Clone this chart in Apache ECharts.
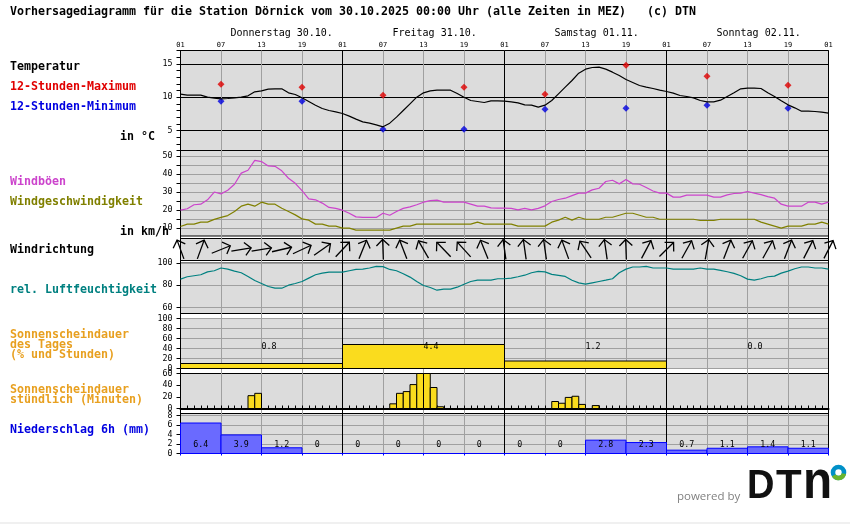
<!DOCTYPE html>
<html>
<head>
<meta charset="utf-8">
<script src="https://cdn.jsdelivr.net/npm/echarts@6/dist/echarts.min.js"></script>
<style>html,body{margin:0;padding:0;background:#fff}</style>
</head>
<body>
<div id="main" style="width:850px;height:524px"></div>
<script>
// values, one value per hour, first = 01:00 Thursday
var hourLabels = ['01','07','13','19','01','07','13','19','01','07','13','19','01','07','13','19','01'];
var dayLabels = ['Donnerstag 30.10.','Freitag 31.10.','Samstag 01.11.','Sonntag 02.11.'];

var temperature = [10.45,10.3,10.3,10.3,10,9.85,9.75,9.8,9.9,10,10.2,10.8,10.95,11.2,11.25,11.25,10.65,10.4,9.9,9.35,8.8,8.3,8,7.8,
  7.55,7.15,6.7,6.3,6.1,5.85,5.55,6.1,7,8,9,10,10.65,10.95,11.05,11.05,11.05,10.55,10,9.5,9.35,9.2,9.45,9.45,
  9.4,9.3,9.15,8.85,8.8,8.5,8.8,9.5,10.5,11.5,12.5,13.6,14.2,14.45,14.5,14.2,13.75,13.25,12.65,12.2,11.75,11.5,11.3,11.05,
  10.85,10.6,10.25,10.1,9.9,9.5,9.3,9.3,9.55,10.1,10.65,11.25,11.35,11.35,11.3,10.65,10.1,9.45,8.85,8.4,7.9,7.9,7.85,7.75,7.6];
// 12-hour extremes at 07 and 19 o'clock
var tempMax = [11.95,11.5,10.3,11.5,10.45,14.8,13.15,11.8];
var tempMin = [9.4,9.4,5.2,5.2,8.2,8.35,8.8,8.35];

var gusts = [20,20.8,23,23.3,25.7,30,29,31,34.3,40.4,42,47.5,46.8,44.4,44.2,41.7,37.6,34.8,30.8,26.2,25.7,23.9,21.5,21,
  20,18.3,16.3,16,16,16,18.3,17.2,19.3,21,21.8,23,24.4,25.3,25.5,24.4,24.4,24.4,24.4,23.3,22.2,22.2,21.3,21.1,
  21.1,21,20.2,21,20.2,21,22.4,24.8,25.9,26.6,28,29.4,29.4,31.2,32.1,35.8,36.5,34.5,36.9,34.5,34.3,32.5,30.6,29.4,
  29.4,27.2,27.2,28.3,28.3,28.3,28.3,27.2,27.2,28.4,29.2,29.4,30.3,29.4,28.6,27.5,26.6,23.3,22.2,22.2,22.2,24.4,24.4,23.3,24.4];
var windSpeed = [11,12.3,12.3,13.4,13.4,14.9,16,17,19.3,22.2,23.3,22.2,24.4,23.3,23.3,21.1,19.3,17.4,15.2,14.5,12.3,12.3,11.2,11.2,
  10.1,10.1,9,9,9,9,9,9,10.1,11.2,11.2,12.3,12.3,12.3,12.3,12.3,12.3,12.3,12.3,12.3,13.4,12.3,12.3,12.3,
  12.3,12.3,11.2,11.2,11.2,11.2,11.2,13.4,14.5,16.1,14.5,16.1,15,15,15,16.1,16.1,17.2,18.3,18.3,17.2,16.1,16.1,15,
  15,15,15,15,15,14.3,14.3,14.3,15,15,15,15,15,15,13.4,12.3,11.2,10.1,11.2,11.2,11.2,12.3,12.3,13.4,12.3];
// compass bearing the arrow points to, one every 3 hours
var windArrows = [340,20,68,81,81,77,65,55,43,22,358,339,330,316,318,338,352,352,352,340,326,352,358,28,45,29,10,21,29,29,21,27,27];

var humidity = [85.5,87.6,88.5,89.4,92,93,95.5,94.5,92.7,91.2,87.9,84.2,81.5,78.8,77.3,77.3,80,81.5,83.3,86.4,89.4,90.9,91.8,91.8,
  91.8,93,94.2,94.5,95.5,97,96.7,94.2,93,90.3,87.3,83.3,79.7,77.9,75.5,76.4,76.4,78.2,80.9,83.3,84.5,84.5,84.5,85.8,
  85.8,86.4,87.6,89,91.2,92.4,92,89.7,88.8,87.9,84.5,82.1,80.9,82.1,83.3,84.5,85.8,91.2,94.5,96.4,96.4,97,95.5,95.5,
  95.5,94.5,94.5,94.5,94.5,95.5,94.5,94.5,93.3,92.1,90.6,88.5,85.5,84.5,85.8,87.6,88.2,90.9,92.7,94.8,96.4,96.4,95.5,95.5,94.5];

var sunDayPercent = [10,48,15,0];
var sunDayHours = ['0.8','4.4','1.2','0.0'];
// minutes of sun for the hour starting at that index
var sunHourStart = [10,11,31,32,33,34,35,36,37,38,55,56,57,58,59,61];
var sunHourMinutes = [22,26,8,26,29,41,60,60,36,3,12,9,19,21,7,5];
var precip6h = [6.4,3.9,1.2,0,0,0,0,0,0,0,2.8,2.3,0.7,1.1,1.4,1.1];

var tempTicks = [2,3,4,5,6,7,8,9,10,11,12,13,14,15,16,17];
var tempLabels = [5,10,15];
var windTicks = [10,15,20,25,30,35,40,45,50];
var windLabels = [10,20,30,40,50];
var humTicks = [60,80,100];
var sunDayTicks = [0,20,40,60,80,100];
var sunHourTicks = [0,20,40,60];
var precipTicks = [0,2,4,6,8];

var MONO = '"DejaVu Sans Mono", "Liberation Mono", monospace';
var GREY = '#a0a0a0';

function panelGrid(top, bottom) {
  return {left: 180.5, width: 648, top: top, height: bottom - top, show: true,
    backgroundColor: '#dcdcdc', borderColor: '#000', borderWidth: 1};
}
function xHidden(i) {
  return {type: 'value', gridIndex: i, min: 0, max: 96, show: false};
}
function yPanel(i, min, max, ticks, labels, lineColor) {
  return {type: 'value', gridIndex: i, min: min, max: max,
    axisLine: {show: true, lineStyle: {color: '#000'}},
    axisTick: {show: true, customValues: ticks, length: 4, lineStyle: {color: '#000', width: 1}},
    axisLabel: {show: true, customValues: labels, margin: 8, color: '#000', fontFamily: MONO, fontSize: 8.3},
    splitLine: {show: !!lineColor, lineStyle: {color: lineColor, width: 1}}};
}

var grids = [
  panelGrid(50.5, 150.5),   // temperature
  panelGrid(150.5, 236),    // wind
  panelGrid(238.5, 260.5),  // wind direction
  panelGrid(263, 313.5),    // humidity
  panelGrid(318.5, 368.5),  // sunshine per day
  panelGrid(373.5, 408.5),  // sunshine per hour
  panelGrid(413.5, 453.5),  // precipitation
  {left: 180.5, width: 648, top: 50.5, height: 403, show: false}  // vertical lines through everything
];

var xAxes = [0,1,2,3,4].map(xHidden);
// hourly sunshine keeps its axis: the little tick per hour on the baseline
xAxes.push({type: 'value', gridIndex: 5, min: 0, max: 96, interval: 1, position: 'bottom',
  axisLine: {show: true, lineStyle: {color: '#000', width: 2}},
  axisTick: {show: true, inside: true, length: 3, lineStyle: {color: '#000'}},
  axisLabel: {show: false}, splitLine: {show: false}});
// precipitation: small blue tick every 6 hours under the bars
xAxes.push({type: 'value', gridIndex: 6, min: 0, max: 96, interval: 6, position: 'bottom',
  axisLine: {show: false},
  axisTick: {show: true, length: 2, lineStyle: {color: '#00f'}},
  axisLabel: {show: false}, splitLine: {show: false}});
xAxes.push({type: 'value', gridIndex: 7, min: 0, max: 96, interval: 6, position: 'top',
  axisLine: {show: false}, axisTick: {show: false},
  axisLabel: {show: true, margin: 2, color: '#000', fontFamily: MONO, fontSize: 7,
    formatter: function (v) { return hourLabels[v / 6]; }},
  splitLine: {show: true, lineStyle: {width: 1, color: ['#000', GREY, GREY, GREY]}}});

var yAxes = [
  yPanel(0, 2, 17, tempTicks, tempLabels, ['transparent','transparent','transparent','#000','transparent']),
  yPanel(1, 5.76, 52.9, windTicks, windLabels, GREY),
  {type: 'value', gridIndex: 2, min: -1, max: 1, show: false},
  yPanel(3, 54.5, 100, humTicks, humTicks, GREY),
  yPanel(4, 0, 100, sunDayTicks, sunDayTicks, GREY),
  yPanel(5, 0, 60, sunHourTicks, sunHourTicks, null),
  yPanel(6, 0, 8.4, precipTicks, precipTicks, GREY),
  {type: 'value', gridIndex: 7, min: 0, max: 1, show: false}
];

function hourly(values) {
  return values.map(function (v, i) { return [i, v]; });
}
function twiceDaily(values) {
  return values.map(function (v, i) { return [6 + i * 12, v]; });
}
function lineSeries(i, values, color) {
  return {type: 'line', xAxisIndex: i, yAxisIndex: i, data: hourly(values), showSymbol: false,
    lineStyle: {color: color, width: 1.2}, silent: true};
}
function dots(values, color) {
  return {type: 'scatter', xAxisIndex: 0, yAxisIndex: 0, data: twiceDaily(values), symbol: 'diamond',
    symbolSize: 7, itemStyle: {color: color}, silent: true};
}

// bars spanning [from, to] on the hour axis, with an optional text per bar
function blockSeries(i, items, fill, stroke, textAt) {
  return {type: 'custom', xAxisIndex: i, yAxisIndex: i, clip: false, silent: true, data: items,
    encode: {x: [0, 1], y: 2},
    renderItem: function (params, api) {
      var a = api.coord([api.value(0), api.value(2)]);
      var b = api.coord([api.value(1), 0]);
      var children = [];
      if (api.value(2) > 0 || stroke === '#00f') {
        children.push({type: 'rect', shape: {x: a[0], y: a[1], width: b[0] - a[0], height: b[1] - a[1]},
          style: {fill: fill, stroke: stroke, lineWidth: 1}});
      }
      if (textAt) {
        var t = textAt(params.dataIndex, api);
        children.push({type: 'text', x: t.x, y: t.y, z2: 5,
          style: {text: t.text, fill: '#000', font: '8.3px ' + MONO, textVerticalAlign: 'middle'}});
      }
      return {type: 'group', children: children};
    }};
}

var sunDayItems = sunDayPercent.map(function (v, i) { return [i * 24, i * 24 + 24, v]; });
var sunHourItems = sunHourStart.map(function (h, i) { return [h, h + 1, sunHourMinutes[i]]; });
var precipItems = precip6h.map(function (v, i) { return [i * 6, i * 6 + 6, v]; });

var arrowSeries = {type: 'custom', xAxisIndex: 2, yAxisIndex: 2, clip: false, silent: true,
  data: windArrows.map(function (d, i) { return [i * 3, 0, d]; }),
  encode: {x: 0, y: 1},
  renderItem: function (params, api) {
    var c = api.coord([api.value(0), 0]);
    var r = api.value(2) * Math.PI / 180;
    var len = 20, head = 9;
    var tip = [c[0] + Math.sin(r) * len / 2, c[1] - Math.cos(r) * len / 2];
    var tail = [c[0] - Math.sin(r) * len / 2, c[1] + Math.cos(r) * len / 2];
    var wing = function (da) {
      return [tip[0] - Math.sin(r + da) * head, tip[1] + Math.cos(r + da) * head];
    };
    var style = {stroke: '#000', lineWidth: 1.3, fill: null};
    return {type: 'group', children: [
      {type: 'polyline', shape: {points: [tail, tip]}, style: style},
      {type: 'polyline', shape: {points: [wing(0.8), tip, wing(-0.8)]}, style: style}
    ]};
  }};

var series = [
  lineSeries(0, temperature, '#000'),
  dots(tempMax, '#e00000'),
  dots(tempMin, '#0000e0'),
  lineSeries(1, gusts, '#cc44cc'),
  lineSeries(1, windSpeed, '#808000'),
  arrowSeries,
  lineSeries(3, humidity, '#008080'),
  blockSeries(4, sunDayItems, '#fadc1e', '#000', function (i, api) {
    var p = api.coord([12 + i * 24, 43]);
    return {x: p[0], y: p[1], text: sunDayHours[i]};
  }),
  blockSeries(5, sunHourItems, '#fadc1e', '#000'),
  blockSeries(6, precipItems, '#6a6aff', '#00f', function (i, api) {
    var p = api.coord([i * 6 + 3, 1.75]);
    return {x: p[0] - 7.5, y: p[1], text: String(precip6h[i])};
  })
];

function txt(x, y, text, color, font, extra) {
  var el = {type: 'text', x: x, y: y, z: 20,
    style: {text: text, fill: color, font: font || 'bold 11.63px ' + MONO, textVerticalAlign: 'middle'}};
  for (var k in extra) el[k] = extra[k];
  return el;
}
var ORANGE = '#e8a020';
var LOGO = 'bold 40px "Liberation Sans", sans-serif';
var graphics = [
  txt(10, 12, 'Vorhersagediagramm für die Station Dörnick vom 30.10.2025 00:00 Uhr (alle Zeiten in MEZ)   (c) DTN', '#000'),
  txt(10, 67, 'Temperatur', '#000'),
  txt(10, 87, '12-Stunden-Maximum', '#e00000'),
  txt(10, 107, '12-Stunden-Minimum', '#0000e0'),
  txt(120, 137, 'in °C', '#000'),
  txt(10, 182, 'Windböen', '#cc44cc'),
  txt(10, 202, 'Windgeschwindigkeit', '#808000'),
  txt(120, 232, 'in km/h', '#000'),
  txt(10, 250, 'Windrichtung', '#000'),
  txt(10, 290, 'rel. Luftfeuchtigkeit', '#008080'),
  txt(10, 335, 'Sonnenscheindauer', ORANGE),
  txt(10, 345, 'des Tages', ORANGE),
  txt(10, 355, '(% und Stunden)', ORANGE),
  txt(10, 390, 'Sonnenscheindauer', ORANGE),
  txt(10, 400, 'stündlich (Minuten)', ORANGE),
  txt(10, 430, 'Niederschlag 6h (mm)', '#0000e0'),
  txt(677, 497, 'powered by', '#808080', '11.5px "Open Sans", sans-serif'),
  txt(747, 487, 'D', '#111', LOGO, {scaleX: 0.95}),
  txt(776, 487, 'T', '#111', LOGO, {scaleX: 1.05}),
  txt(803, 483, 'n', '#111', 'bold 53px "Liberation Sans", sans-serif', {scaleX: 0.9}),
  {type: 'circle', x: 838.5, y: 472.5, z: 20, shape: {r: 5.5}, style: {fill: '#fff', stroke: '#0090c8', lineWidth: 4.6}},
  {type: 'arc', x: 838.5, y: 472.5, z: 21, shape: {r: 5.5, startAngle: 0.2, endAngle: 2.6}, style: {fill: null, stroke: '#6ab42d', lineWidth: 4.6}},
  {type: 'rect', x: 0, y: 522, z: 20, shape: {width: 850, height: 2}, style: {fill: '#f0f0f0'}}
];
dayLabels.forEach(function (d, i) {
  graphics.push(txt(230.5 + i * 162, 33, d, '#000', '10px ' + MONO));
});

var myChart = echarts.init(document.getElementById('main'));
myChart.setOption({
  animation: false,
  backgroundColor: '#fff',
  grid: grids,
  xAxis: xAxes,
  yAxis: yAxes,
  series: series,
  graphic: {elements: graphics}
});
</script>
</body>
</html>
